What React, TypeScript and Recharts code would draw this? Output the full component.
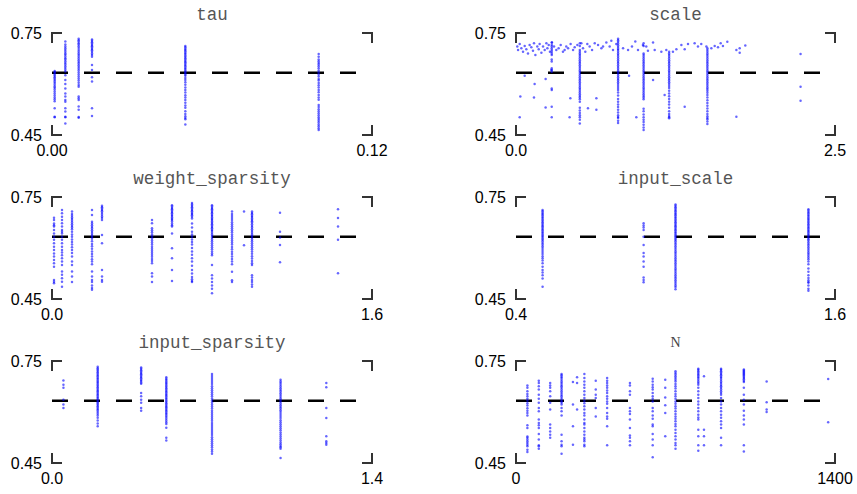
import { ScatterChart, Scatter, XAxis, YAxis, ReferenceLine } from 'recharts';

// y range shared by every panel, and the baseline score drawn dashed
const yTicks = [0.45, 0.75];
const baseline = 0.633;

// tau
const tauX = [0.001, 0.005, 0.01, 0.015, 0.05, 0.1];
const tauY = [
  [0.638, 0.635, 0.632, 0.628, 0.624, 0.62, 0.616, 0.612, 0.607, 0.603, 0.598, 0.593, 0.589, 0.584, 0.578, 0.572, 0.566, 0.56, 0.555, 0.549, 0.529, 0.504, 0.502],
  [0.725, 0.716, 0.71, 0.705, 0.7, 0.695, 0.69, 0.686, 0.681, 0.676, 0.672, 0.667, 0.662, 0.657, 0.652, 0.647, 0.642, 0.637, 0.626, 0.612, 0.6, 0.587, 0.572, 0.563, 0.553, 0.548, 0.529, 0.519, 0.504, 0.502, 0.484],
  [0.733, 0.729, 0.725, 0.72, 0.716, 0.711, 0.706, 0.7, 0.695, 0.69, 0.685, 0.68, 0.675, 0.67, 0.665, 0.66, 0.655, 0.65, 0.645, 0.64, 0.634, 0.628, 0.622, 0.616, 0.61, 0.604, 0.597, 0.592, 0.563, 0.558, 0.553, 0.534, 0.524, 0.503, 0.501],
  [0.731, 0.727, 0.723, 0.719, 0.715, 0.711, 0.707, 0.703, 0.699, 0.695, 0.69, 0.685, 0.68, 0.656, 0.641, 0.62, 0.607, 0.529, 0.506],
  [0.712, 0.708, 0.704, 0.7, 0.696, 0.692, 0.688, 0.684, 0.68, 0.676, 0.672, 0.668, 0.664, 0.66, 0.656, 0.652, 0.648, 0.644, 0.64, 0.636, 0.632, 0.628, 0.624, 0.618, 0.612, 0.605, 0.598, 0.59, 0.582, 0.575, 0.567, 0.56, 0.553, 0.545, 0.537, 0.53, 0.52, 0.512, 0.505, 0.5, 0.496, 0.481],
  [0.688, 0.68, 0.672, 0.667, 0.662, 0.657, 0.652, 0.646, 0.64, 0.634, 0.628, 0.622, 0.615, 0.61, 0.603, 0.596, 0.59, 0.582, 0.576, 0.568, 0.56, 0.554, 0.538, 0.532, 0.526, 0.52, 0.514, 0.508, 0.502, 0.497, 0.492, 0.487, 0.481, 0.476, 0.47, 0.465],
];

// scale: grid columns plus freely sampled runs
const scaleX = [0.28, 0.5, 0.8, 1.0, 1.2, 1.5, 2.23];
const scaleY = [
  [0.722, 0.715, 0.71, 0.705, 0.7, 0.695, 0.69, 0.685, 0.672, 0.666, 0.646, 0.641, 0.636, 0.587, 0.582, 0.533, 0.502],
  [0.72, 0.712, 0.7, 0.695, 0.69, 0.685, 0.68, 0.675, 0.67, 0.665, 0.66, 0.655, 0.65, 0.645, 0.64, 0.635, 0.63, 0.625, 0.62, 0.615, 0.61, 0.605, 0.6, 0.595, 0.59, 0.585, 0.58, 0.575, 0.57, 0.565, 0.56, 0.555, 0.548, 0.53, 0.522, 0.515, 0.508, 0.502, 0.495, 0.484],
  [0.733, 0.729, 0.724, 0.719, 0.714, 0.709, 0.704, 0.7, 0.695, 0.69, 0.685, 0.68, 0.675, 0.67, 0.665, 0.66, 0.655, 0.65, 0.645, 0.64, 0.635, 0.63, 0.625, 0.62, 0.615, 0.61, 0.605, 0.6, 0.594, 0.588, 0.582, 0.575, 0.566, 0.556, 0.548, 0.54, 0.532, 0.524, 0.516, 0.508, 0.503, 0.5, 0.492, 0.485],
  [0.72, 0.712, 0.69, 0.685, 0.68, 0.675, 0.67, 0.665, 0.66, 0.655, 0.65, 0.645, 0.64, 0.635, 0.63, 0.625, 0.62, 0.615, 0.61, 0.605, 0.6, 0.595, 0.59, 0.585, 0.58, 0.575, 0.57, 0.565, 0.56, 0.555, 0.527, 0.52, 0.51, 0.502, 0.495, 0.488, 0.48, 0.472, 0.465],
  [0.695, 0.69, 0.685, 0.68, 0.675, 0.67, 0.665, 0.66, 0.655, 0.65, 0.645, 0.64, 0.635, 0.63, 0.625, 0.62, 0.615, 0.61, 0.605, 0.6, 0.594, 0.588, 0.58, 0.572, 0.564, 0.556, 0.548, 0.54, 0.53, 0.52, 0.512, 0.506, 0.502, 0.499],
  [0.705, 0.7, 0.695, 0.69, 0.685, 0.68, 0.675, 0.67, 0.665, 0.66, 0.655, 0.65, 0.645, 0.64, 0.635, 0.63, 0.625, 0.62, 0.615, 0.61, 0.605, 0.6, 0.595, 0.59, 0.585, 0.58, 0.574, 0.568, 0.56, 0.552, 0.544, 0.536, 0.528, 0.52, 0.512, 0.505, 0.5, 0.496, 0.49, 0.482],
  [0.688, 0.592, 0.551],
];
const scaleLooseX = [
  0.01, 0.016, 0.029, 0.042, 0.055, 0.068, 0.081, 0.094, 0.107, 0.12, 0.133, 0.141, 0.152, 0.167, 0.178, 0.185, 0.199, 0.212, 0.225, 0.238,
  0.246, 0.256, 0.266, 0.282, 0.298, 0.316, 0.334, 0.35, 0.368, 0.381, 0.394, 0.408, 0.428, 0.447, 0.46, 0.481, 0.512, 0.525, 0.543, 0.559,
  0.577, 0.596, 0.617, 0.643, 0.669, 0.682, 0.708, 0.734, 0.747, 0.76, 0.786, 0.839, 0.878, 0.909, 0.935, 0.956, 0.995, 1.021, 1.034, 1.074,
  1.087, 1.139, 1.178, 1.23, 1.257, 1.296, 1.322, 1.348, 1.4, 1.426, 1.452, 1.492, 1.531, 1.557, 1.583, 1.604, 1.622, 1.656, 1.727, 1.753,
  1.797, 1.753,
  0.029, 0.068, 0.034, 0.146, 0.141, 0.232, 0.232, 0.42, 0.426, 0.564, 0.63, 0.63, 0.886, 0.943, 1.074, 1.165, 1.322, 1.727, 0.277,
];
const scaleLooseY = [
  0.71, 0.7, 0.718, 0.705, 0.695, 0.712, 0.702, 0.69, 0.715, 0.708, 0.698, 0.72, 0.685, 0.71, 0.702, 0.718, 0.692, 0.71, 0.7, 0.72,
  0.705, 0.715, 0.695, 0.722, 0.71, 0.7, 0.705, 0.715, 0.695, 0.7, 0.71, 0.705, 0.718, 0.7, 0.708, 0.715, 0.72, 0.705, 0.695, 0.718,
  0.71, 0.7, 0.72, 0.715, 0.705, 0.71, 0.722, 0.71, 0.727, 0.7, 0.718, 0.705, 0.7, 0.71, 0.725, 0.7, 0.715, 0.71, 0.698, 0.722,
  0.7, 0.695, 0.7, 0.695, 0.702, 0.715, 0.702, 0.718, 0.72, 0.71, 0.718, 0.71, 0.705, 0.712, 0.708, 0.72, 0.712, 0.724, 0.7, 0.705,
  0.713, 0.692,
  0.502, 0.624, 0.563, 0.6, 0.56, 0.615, 0.531, 0.502, 0.558, 0.529, 0.558, 0.524, 0.624, 0.502, 0.612, 0.568, 0.533, 0.504, 0.641,
];

// weight_sparsity
const weightSparsityX = [0.01, 0.05, 0.1, 0.2, 0.25, 0.5, 0.6, 0.7, 0.8, 0.9, 0.96, 1.0, 1.14, 1.43];
const weightSparsityY = [
  [0.689, 0.682, 0.672, 0.667, 0.663, 0.653, 0.643, 0.633, 0.624, 0.614, 0.604, 0.594, 0.584, 0.575, 0.565, 0.555, 0.545, 0.506, 0.501, 0.496],
  [0.712, 0.702, 0.692, 0.682, 0.673, 0.663, 0.653, 0.648, 0.643, 0.633, 0.624, 0.614, 0.604, 0.594, 0.587, 0.579, 0.57, 0.56, 0.55, 0.531, 0.521, 0.511, 0.501, 0.486],
  [0.707, 0.7, 0.695, 0.69, 0.685, 0.68, 0.675, 0.67, 0.665, 0.66, 0.655, 0.648, 0.64, 0.633, 0.625, 0.618, 0.61, 0.602, 0.594, 0.585, 0.575, 0.56, 0.55, 0.531, 0.516, 0.5],
  [0.712, 0.697, 0.677, 0.672, 0.667, 0.662, 0.657, 0.652, 0.647, 0.642, 0.637, 0.632, 0.627, 0.62, 0.612, 0.605, 0.598, 0.59, 0.582, 0.575, 0.567, 0.56, 0.552, 0.531, 0.516, 0.506, 0.5, 0.49, 0.482, 0.477],
  [0.724, 0.72, 0.716, 0.712, 0.708, 0.703, 0.698, 0.693, 0.688, 0.682, 0.638, 0.614, 0.535, 0.516, 0.506, 0.501],
  [0.682, 0.673, 0.658, 0.652, 0.646, 0.64, 0.634, 0.628, 0.622, 0.616, 0.61, 0.604, 0.598, 0.592, 0.586, 0.58, 0.574, 0.568, 0.562, 0.555, 0.526, 0.516, 0.5],
  [0.726, 0.722, 0.718, 0.714, 0.71, 0.706, 0.702, 0.698, 0.694, 0.69, 0.686, 0.682, 0.678, 0.672, 0.667, 0.663, 0.643, 0.599, 0.57, 0.535, 0.503],
  [0.732, 0.728, 0.724, 0.72, 0.716, 0.712, 0.708, 0.704, 0.7, 0.696, 0.692, 0.687, 0.672, 0.66, 0.648, 0.64, 0.633, 0.625, 0.618, 0.61, 0.6, 0.59, 0.58, 0.57, 0.56, 0.548, 0.535, 0.525, 0.515, 0.508, 0.503, 0.5],
  [0.726, 0.722, 0.718, 0.714, 0.71, 0.706, 0.702, 0.698, 0.694, 0.69, 0.686, 0.682, 0.678, 0.674, 0.67, 0.666, 0.662, 0.658, 0.654, 0.65, 0.645, 0.64, 0.635, 0.63, 0.625, 0.62, 0.614, 0.608, 0.602, 0.596, 0.59, 0.584, 0.579, 0.55, 0.52, 0.51, 0.5, 0.49, 0.48, 0.467],
  [0.707, 0.7, 0.694, 0.688, 0.682, 0.676, 0.67, 0.664, 0.658, 0.652, 0.646, 0.64, 0.634, 0.628, 0.622, 0.616, 0.61, 0.603, 0.596, 0.589, 0.582, 0.575, 0.568, 0.56, 0.552, 0.53, 0.505, 0.5],
  [0.707, 0.608],
  [0.707, 0.703, 0.699, 0.695, 0.691, 0.687, 0.683, 0.679, 0.675, 0.67, 0.665, 0.66, 0.655, 0.65, 0.645, 0.64, 0.635, 0.63, 0.625, 0.62, 0.614, 0.608, 0.602, 0.596, 0.59, 0.583, 0.576, 0.569, 0.562, 0.555, 0.55, 0.52, 0.513, 0.506, 0.5, 0.493, 0.486],
  [0.704, 0.648, 0.631, 0.609, 0.558],
  [0.714, 0.688, 0.663, 0.624, 0.526],
];

// input_scale
const inputScaleX = [0.5, 0.88, 1.0, 1.5];
const inputScaleY = [
  [0.712, 0.708, 0.704, 0.7, 0.696, 0.692, 0.688, 0.684, 0.68, 0.676, 0.672, 0.668, 0.664, 0.66, 0.656, 0.652, 0.648, 0.644, 0.64, 0.636, 0.632, 0.628, 0.624, 0.62, 0.615, 0.61, 0.605, 0.6, 0.594, 0.588, 0.582, 0.576, 0.57, 0.563, 0.555, 0.545, 0.535, 0.528, 0.52, 0.51, 0.486],
  [0.673, 0.666, 0.66, 0.653, 0.633, 0.609, 0.585, 0.575, 0.56, 0.545, 0.513, 0.506, 0.499],
  [0.728, 0.724, 0.72, 0.716, 0.712, 0.708, 0.704, 0.7, 0.696, 0.692, 0.688, 0.684, 0.68, 0.676, 0.672, 0.668, 0.664, 0.66, 0.656, 0.652, 0.648, 0.644, 0.64, 0.636, 0.632, 0.628, 0.624, 0.62, 0.615, 0.61, 0.605, 0.6, 0.595, 0.59, 0.585, 0.58, 0.575, 0.57, 0.565, 0.56, 0.555, 0.55, 0.545, 0.54, 0.535, 0.53, 0.525, 0.52, 0.515, 0.51, 0.505, 0.5, 0.495, 0.49, 0.485, 0.479],
  [0.714, 0.71, 0.706, 0.702, 0.698, 0.694, 0.69, 0.686, 0.682, 0.678, 0.674, 0.67, 0.666, 0.662, 0.658, 0.654, 0.65, 0.646, 0.642, 0.638, 0.634, 0.63, 0.626, 0.622, 0.617, 0.612, 0.607, 0.602, 0.597, 0.592, 0.587, 0.582, 0.577, 0.572, 0.567, 0.56, 0.552, 0.54, 0.53, 0.52, 0.512, 0.505, 0.5, 0.498, 0.49, 0.48, 0.474],
];

// input_sparsity
const inputSparsityX = [0.05, 0.2, 0.39, 0.5, 0.7, 1.0, 1.2];
const inputSparsityY = [
  [0.693, 0.68, 0.671, 0.636, 0.622, 0.612],
  [0.733, 0.729, 0.725, 0.721, 0.717, 0.713, 0.709, 0.705, 0.701, 0.697, 0.693, 0.689, 0.685, 0.681, 0.677, 0.673, 0.669, 0.665, 0.661, 0.657, 0.653, 0.649, 0.645, 0.641, 0.637, 0.633, 0.629, 0.625, 0.621, 0.617, 0.613, 0.609, 0.605, 0.6, 0.595, 0.59, 0.583, 0.575, 0.566, 0.558],
  [0.731, 0.727, 0.723, 0.719, 0.715, 0.711, 0.707, 0.703, 0.699, 0.695, 0.691, 0.687, 0.683, 0.656, 0.646, 0.636, 0.627, 0.612, 0.604],
  [0.702, 0.698, 0.694, 0.69, 0.686, 0.682, 0.678, 0.674, 0.67, 0.666, 0.662, 0.658, 0.654, 0.65, 0.646, 0.642, 0.638, 0.634, 0.63, 0.626, 0.622, 0.618, 0.614, 0.61, 0.606, 0.602, 0.598, 0.594, 0.59, 0.585, 0.58, 0.575, 0.57, 0.565, 0.554, 0.524, 0.516],
  [0.712, 0.706, 0.7, 0.694, 0.688, 0.682, 0.676, 0.67, 0.664, 0.658, 0.652, 0.646, 0.64, 0.634, 0.628, 0.622, 0.616, 0.61, 0.604, 0.598, 0.592, 0.586, 0.58, 0.574, 0.568, 0.562, 0.556, 0.55, 0.544, 0.538, 0.532, 0.526, 0.52, 0.514, 0.508, 0.502, 0.496, 0.49, 0.484, 0.477],
  [0.695, 0.69, 0.685, 0.68, 0.675, 0.67, 0.665, 0.66, 0.655, 0.65, 0.645, 0.64, 0.635, 0.63, 0.625, 0.62, 0.615, 0.61, 0.605, 0.6, 0.594, 0.588, 0.582, 0.576, 0.57, 0.564, 0.558, 0.552, 0.546, 0.54, 0.534, 0.528, 0.522, 0.516, 0.51, 0.505, 0.5, 0.496, 0.492, 0.465],
  [0.685, 0.673, 0.612, 0.582, 0.529, 0.514, 0.509, 0.504],
];

// N
const nX = [50, 100, 150, 200, 250, 268, 300, 350, 400, 500, 600, 655, 700, 800, 825, 900, 1000, 1100, 1370];
const nY = [
  [0.678, 0.671, 0.661, 0.653, 0.646, 0.639, 0.633, 0.626, 0.619, 0.611, 0.604, 0.597, 0.59, 0.561, 0.553, 0.528, 0.524, 0.519, 0.514, 0.509, 0.504, 0.499, 0.489, 0.482],
  [0.692, 0.685, 0.676, 0.666, 0.651, 0.639, 0.627, 0.612, 0.602, 0.578, 0.568, 0.561, 0.553, 0.535, 0.519, 0.502, 0.499, 0.492],
  [0.685, 0.678, 0.671, 0.661, 0.646, 0.627, 0.607, 0.563, 0.553, 0.543, 0.533, 0.524],
  [0.712, 0.708, 0.704, 0.7, 0.695, 0.69, 0.685, 0.68, 0.676, 0.671, 0.666, 0.661, 0.656, 0.651, 0.646, 0.641, 0.636, 0.631, 0.627, 0.622, 0.612, 0.602, 0.59, 0.533, 0.514, 0.504, 0.499, 0.477],
  [0.688, 0.622, 0.558, 0.504],
  [0.702, 0.685, 0.607],
  [0.712, 0.7, 0.69, 0.68, 0.671, 0.661, 0.651, 0.641, 0.633, 0.626, 0.617, 0.607, 0.597, 0.59, 0.578, 0.568, 0.563, 0.553, 0.543, 0.533, 0.524, 0.519, 0.514, 0.504, 0.499],
  [0.692, 0.666, 0.651, 0.641, 0.612, 0.587],
  [0.7, 0.692, 0.685, 0.678, 0.671, 0.663, 0.656, 0.646, 0.639, 0.631, 0.624, 0.612, 0.597, 0.587, 0.58, 0.558, 0.502],
  [0.685, 0.678, 0.661, 0.651, 0.612, 0.602, 0.594, 0.578, 0.553, 0.531, 0.524, 0.514, 0.502],
  [0.698, 0.69, 0.68, 0.673, 0.666, 0.656, 0.646, 0.639, 0.631, 0.612, 0.602, 0.59, 0.58, 0.563, 0.558, 0.535, 0.519, 0.502, 0.467],
  [0.695, 0.671, 0.643, 0.62, 0.597, 0.529],
  [0.72, 0.715, 0.71, 0.705, 0.7, 0.695, 0.69, 0.682, 0.676, 0.669, 0.661, 0.653, 0.646, 0.639, 0.631, 0.624, 0.617, 0.61, 0.602, 0.594, 0.587, 0.58, 0.573, 0.565, 0.558, 0.548, 0.538, 0.529, 0.519, 0.509, 0.502, 0.492],
  [0.727, 0.724, 0.72, 0.716, 0.712, 0.708, 0.704, 0.7, 0.695, 0.69, 0.685, 0.68, 0.671, 0.661, 0.651, 0.641, 0.631, 0.622, 0.612, 0.602, 0.592, 0.584, 0.578, 0.548, 0.529, 0.502, 0.486],
  [0.705, 0.548, 0.529, 0.502],
  [0.727, 0.724, 0.72, 0.716, 0.712, 0.708, 0.704, 0.7, 0.695, 0.69, 0.685, 0.68, 0.676, 0.671, 0.666, 0.661, 0.656, 0.651, 0.641, 0.631, 0.622, 0.612, 0.602, 0.592, 0.583, 0.573, 0.563, 0.553, 0.524, 0.502],
  [0.725, 0.722, 0.719, 0.716, 0.713, 0.71, 0.707, 0.704, 0.7, 0.696, 0.692, 0.688, 0.671, 0.651, 0.636, 0.622, 0.604, 0.59, 0.578, 0.563, 0.502, 0.484],
  [0.69, 0.629, 0.607, 0.6],
  [0.697, 0.57],
];

type Pt = { x: number; y: number };

const columns = (xs: number[], ys: number[][]): Pt[] =>
  xs.flatMap((x, i) => ys[i].map((y) => ({ x, y })));

const loose = (xs: number[], ys: number[]): Pt[] => xs.map((x, i) => ({ x, y: ys[i] }));

const panels = [
  { title: 'tau', mono: true, row: 0, col: 0, domain: [0, 0.12], digits: 2, data: columns(tauX, tauY) },
  { title: 'scale', mono: true, row: 0, col: 1, domain: [0, 2.5], digits: 1, data: [...loose(scaleLooseX, scaleLooseY), ...columns(scaleX, scaleY)] },
  { title: 'weight_sparsity', mono: true, row: 1, col: 0, domain: [0, 1.6], digits: 1, data: columns(weightSparsityX, weightSparsityY) },
  { title: 'input_scale', mono: true, row: 1, col: 1, domain: [0.4, 1.6], digits: 1, data: columns(inputScaleX, inputScaleY) },
  { title: 'input_sparsity', mono: true, row: 2, col: 0, domain: [0, 1.4], digits: 1, data: columns(inputSparsityX, inputSparsityY) },
  { title: 'N', mono: false, row: 2, col: 1, domain: [0, 1400], digits: 0, data: columns(nX, nY) },
];

const W = 428;
const H = 164;
const AXIS_W = 40;
const X_AXIS_H = 25;
const TOP = 33;
const BOTTOM = 4;
// left / right margins per column
const marginsX = [
  { left: 12, right: 56 },
  { left: 48, right: 21 },
];

const tickFont = { fill: '#000', fontSize: 16, fontFamily: '"Liberation Sans", Arial, sans-serif' };

const Dot = (p: any) => <circle cx={p.cx} cy={p.cy} r={1.25} fill="#0000ff" fillOpacity={0.6} />;

function Frame({ col, title, mono }: { col: number; title: string; mono: boolean }) {
  const m = marginsX[col];
  const l = m.left + AXIS_W;
  const r = W - m.right;
  const t = TOP;
  const b = H - BOTTOM - X_AXIS_H;
  const a = 10;
  const d = [
    `M${l + a},${t}H${l}V${t + a}`,
    `M${r - a},${t}H${r}V${t + a}`,
    `M${l},${b - a}V${b}H${l + a}`,
    `M${r},${b - a}V${b}H${r - a}`,
  ].join('');
  return (
    <svg width={W} height={H} style={{ position: 'absolute', left: 0, top: 0, pointerEvents: 'none' }}>
      <path d={d} fill="none" stroke="#333" strokeWidth={2} />
      <text
        x={(l + r) / 2}
        y={mono ? 19.5 : 18.5}
        textAnchor="middle"
        fill={mono ? '#555' : '#444'}
        fontSize={mono ? 17.5 : 14}
        fontFamily={mono ? '"Liberation Mono", "Courier New", monospace' : '"Liberation Serif", serif'}
      >
        {title}
      </text>
    </svg>
  );
}

export default function App() {
  return (
    <div style={{ position: 'absolute', left: 0, top: 0, width: 857, height: 494, background: '#fff' }}>
      {panels.map((p) => (
        <div key={p.title} style={{ position: 'absolute', left: p.col * W, top: p.row * H, width: W, height: H }}>
          <ScatterChart width={W} height={H} margin={{ top: TOP, bottom: BOTTOM, ...marginsX[p.col] }}>
            <XAxis
              type="number"
              dataKey="x"
              domain={p.domain}
              ticks={p.domain}
              interval={0}
              allowDataOverflow
              axisLine={false}
              tickLine={false}
              tickSize={0}
              tickMargin={10}
              height={X_AXIS_H}
              tick={tickFont}
              tickFormatter={(v: number) => v.toFixed(p.digits)}
            />
            <YAxis
              type="number"
              dataKey="y"
              domain={[0.45, 0.75]}
              ticks={yTicks}
              interval={0}
              allowDataOverflow
              axisLine={false}
              tickLine={false}
              tickSize={0}
              tickMargin={10}
              width={AXIS_W}
              tick={tickFont}
              tickFormatter={(v: number) => v.toFixed(2)}
            />
            <Scatter data={p.data} shape={Dot} isAnimationActive={false} />
            <ReferenceLine y={baseline} stroke="#000" strokeWidth={2.4} strokeDasharray="16 16" />
          </ScatterChart>
          <Frame col={p.col} title={p.title} mono={p.mono} />
        </div>
      ))}
    </div>
  );
}
